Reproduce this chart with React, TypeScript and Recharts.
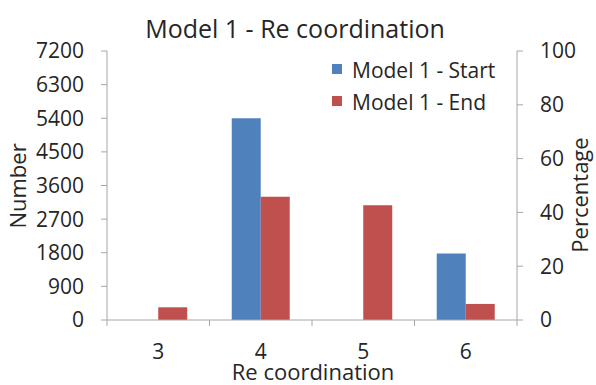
import React from "react";
import {
  ComposedChart,
  Bar,
  Line,
  XAxis,
  YAxis,
  Legend,
  Label,
} from "recharts";

const categories = ["3", "4", "5", "6"];
const startValues = [0, 5400, 0, 1780];
const endValues = [340, 3300, 3070, 430];
const numberTicks = [0, 900, 1800, 2700, 3600, 4500, 5400, 6300, 7200];
const percentTicks = [0, 20, 40, 60, 80, 100];

const data = categories.map((c, i) => ({
  coord: c,
  start: startValues[i],
  end: endValues[i],
}));

const FONT = "'Open Sans', sans-serif";
const AXIS = "#a6a6a6";
const TEXT = "#262626";
const BLUE = "#4f81bd";
const RED = "#c0504d";

const W = 596;
const H = 385;
const LEFT = 107;
const RIGHT = 79;
const TOP = 51;
const BOTTOM = 65;
const BAND = (W - LEFT - RIGHT) / categories.length;

// category ticks sit on band edges, like Excel
function XTick(props: any) {
  const { x, y, payload, index } = props;
  const half = BAND / 2;
  const ay = y - 8;
  return (
    <g>
      <line x1={x - half} x2={x - half} y1={ay} y2={ay + 6} stroke={AXIS} />
      {index === categories.length - 1 && (
        <line x1={x + half} x2={x + half} y1={ay} y2={ay + 6} stroke={AXIS} />
      )}
      <text x={x} y={ay + 39} textAnchor="middle" fill={TEXT} fontSize={21} fontFamily={FONT}>
        {payload.value}
      </text>
    </g>
  );
}

function AxisTitle({ x, y, text, rotate }: { x: number; y: number; text: string; rotate?: boolean }) {
  return (
    <text
      x={x}
      y={y}
      transform={rotate ? `rotate(-90 ${x} ${y})` : undefined}
      textAnchor="middle"
      fill={TEXT}
      fontSize={22}
      fontFamily={FONT}
    >
      {text}
    </text>
  );
}

function LegendBox() {
  const items = [
    { name: "Model 1 - Start", color: BLUE },
    { name: "Model 1 - End", color: RED },
  ];
  return (
    <div style={{ fontFamily: FONT, fontSize: 21, color: TEXT }}>
      {items.map((it) => (
        <div key={it.name} style={{ display: "flex", alignItems: "center", height: 32 }}>
          <span
            style={{ width: 10, height: 10, background: it.color, marginRight: 10, transform: "translateY(-1px)" }}
          />
          <span>{it.name}</span>
        </div>
      ))}
    </div>
  );
}

export default function App() {
  return (
    <div style={{ position: "absolute", left: 0, top: 0, width: W, height: H, background: "#fff" }}>
      <div
        style={{
          position: "absolute",
          left: 0,
          top: 16,
          width: 590,
          textAlign: "center",
          fontFamily: FONT,
          fontSize: 25,
          lineHeight: "25px",
          color: TEXT,
        }}
      >
        Model 1 - Re coordination
      </div>
      <ComposedChart
        width={W}
        height={H}
        data={data}
        margin={{ top: TOP, right: 0, bottom: 0, left: 0 }}
        barCategoryGap="21.7%"
        barGap={0}
      >
        <XAxis
          dataKey="coord"
          height={BOTTOM}
          stroke={AXIS}
          tickLine={false}
          tick={<XTick />}
          interval={0}
        >
          <Label content={() => <AxisTitle x={313} y={380} text="Re coordination" />} />
        </XAxis>
        <YAxis
          yAxisId="left"
          width={LEFT}
          domain={[0, 7200]}
          ticks={numberTicks}
          stroke={AXIS}
          tickSize={6}
          tickMargin={17}
          tick={{ fill: TEXT, fontSize: 21, fontFamily: FONT }}
        >
          <Label content={() => <AxisTitle x={26} y={186} text="Number" rotate />} />
        </YAxis>
        <YAxis
          yAxisId="right"
          orientation="right"
          width={RIGHT}
          domain={[0, 100]}
          allowDataOverflow
          ticks={percentTicks}
          stroke={AXIS}
          tickSize={6}
          tickMargin={17}
          tick={{ fill: TEXT, fontSize: 21, fontFamily: FONT }}
        >
          <Label content={() => <AxisTitle x={588} y={195} text="Percentage" rotate />} />
        </YAxis>
        <Legend
          layout="vertical"
          align="center"
          verticalAlign="middle"
          content={<LegendBox />}
          wrapperStyle={{ left: 332, top: 54, width: 240 }}
        />
        <Bar yAxisId="left" dataKey="start" name="Model 1 - Start" fill={BLUE} isAnimationActive={false} />
        <Bar yAxisId="left" dataKey="end" name="Model 1 - End" fill={RED} isAnimationActive={false} />
        {/* percentage axis carries no series; an empty line keeps it drawn */}
        <Line yAxisId="right" dataKey="pct" stroke="none" dot={false} isAnimationActive={false} legendType="none" />
      </ComposedChart>
    </div>
  );
}
